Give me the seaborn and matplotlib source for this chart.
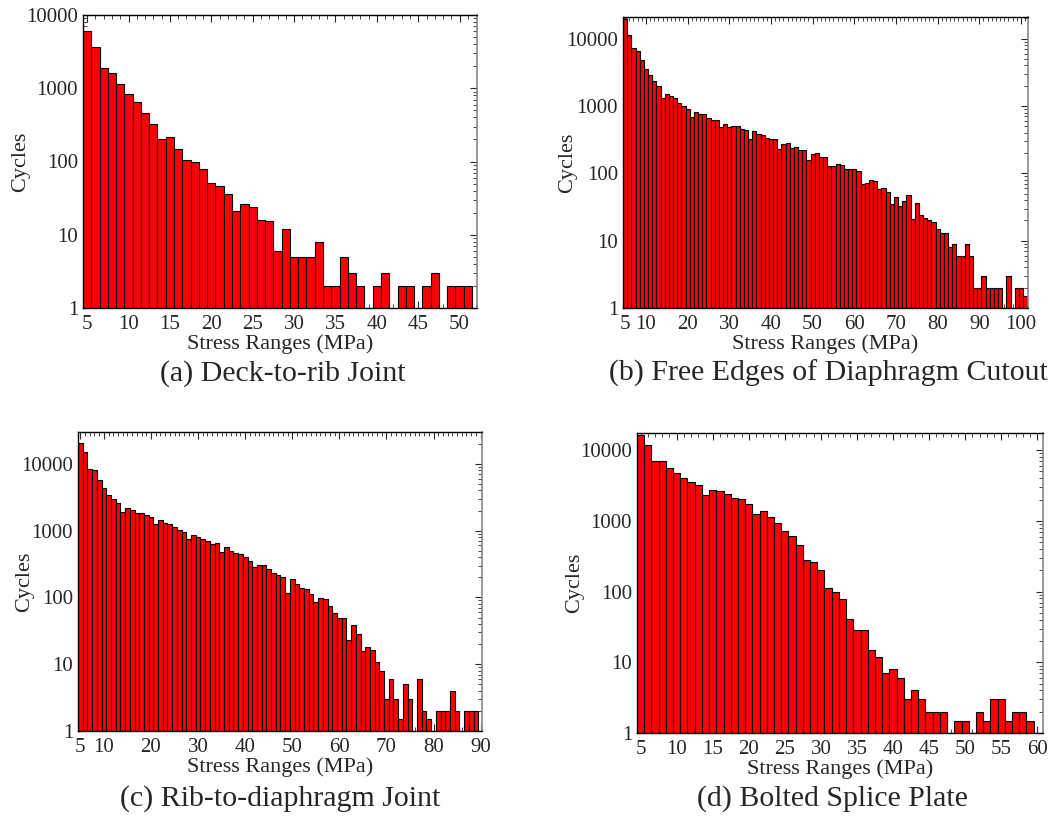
"""Stress range histograms for four orthotropic deck details."""

import matplotlib.pyplot as plt
import pandas as pd
import seaborn as sns
from matplotlib.ticker import LogLocator, MultipleLocator, NullFormatter

# (a) Deck-to-rib Joint, 5..51 MPa
A_STRESS = list(range(5, 52))
A_CYCLES = [
    6000, 3650, 1870, 1640, 1130, 830, 645, 455, 330, 203,
    215, 148, 104, 97, 78, 51, 46, 36, 21, 26,
    24, 15.7, 15.2, 6, 12, 5, 5, 5, 8, 2,
    2, 5, 3, 2, 0, 2, 3, 0, 2, 2,
    0, 2, 3, 0, 2, 2, 2,
]

# (b) Free Edges of Diaphragm Cutout, 5..101 MPa
B_STRESS = list(range(5, 102))
B_CYCLES = [
    19500, 11200, 7350, 6560, 4770, 3580, 2850, 2320, 1960, 1330,
    1490, 1420, 1300, 1120, 1010, 900, 695, 815, 770, 770,
    663, 627, 627, 493, 540, 493, 510, 505, 455, 445,
    327, 420, 388, 367, 339, 327, 327, 227, 273, 282,
    235, 249, 224, 224, 160, 196, 203, 177, 177, 130,
    130, 136, 135, 116, 116, 117, 108, 70, 73, 80,
    77, 58, 61, 53, 35, 45, 33, 39, 48, 21,
    36, 24, 22, 20, 19, 15, 13, 13, 8, 9,
    6, 6, 9, 6, 2, 2, 3, 2, 2, 2,
    2, 0, 3, 0, 2, 2, 1.5,
]

# (c) Rib-to-diaphragm Joint, 5..89 MPa
C_STRESS = list(range(5, 90))
C_CYCLES = [
    20400, 14800, 8500, 8100, 5750, 4370, 3430, 2990, 2600, 1900,
    2160, 2040, 1860, 1820, 1720, 1585, 1245, 1460, 1320, 1260,
    1150, 1020, 955, 740, 850, 810, 750, 700, 630, 650,
    485, 560, 500, 460, 447, 407, 350, 285, 310, 310,
    265, 234, 219, 204, 117, 188, 160, 138, 133, 112,
    85, 97, 94, 74, 57.5, 49, 49, 23, 38.5, 28,
    16, 18.4, 16.6, 10.8, 7.9, 3, 6, 3, 1.5, 5,
    3, 0, 6, 2, 1.5, 0, 2, 2, 2, 4,
    2, 0, 2, 2, 2,
]

# (d) Bolted Splice Plate, 5..59 MPa
D_STRESS = list(range(5, 60))
D_CYCLES = [
    16300, 12000, 7000, 7000, 5640, 4730, 3980, 3530, 3170, 2340,
    2700, 2640, 2430, 2140, 2050, 1730, 1240, 1365, 1120, 945,
    717, 617, 462, 283, 266, 204, 112, 99, 77.6, 41.6,
    28.8, 28.8, 15, 12, 7, 8, 6, 3, 4, 3,
    2, 2, 2, 0, 1.5, 1.5, 0, 2, 1.5, 3,
    3, 1.5, 2, 2, 1.5,
]

A_XTICKS = [5, 10, 15, 20, 25, 30, 35, 40, 45, 50]
B_XTICKS = [5, 10, 20, 30, 40, 50, 60, 70, 80, 90, 100]
C_XTICKS = [5, 10, 20, 30, 40, 50, 60, 70, 80, 90]
D_XTICKS = [5, 10, 15, 20, 25, 30, 35, 40, 45, 50, 55, 60]

Y_TICKS = [1, 10, 100, 1000, 10000]
Y_TICK_LABELS = ["1", "10", "100", "1000", "10000"]

CAPTIONS = [
    "(a) Deck-to-rib Joint",
    "(b) Free Edges of Diaphragm Cutout",
    "(c) Rib-to-diaphragm Joint",
    "(d) Bolted Splice Plate",
]

FIG_W, FIG_H = 1052, 818


def px_rect(left: float, top: float, right: float, bottom: float) -> list[float]:
    return [left / FIG_W, 1 - bottom / FIG_H, (right - left) / FIG_W, (bottom - top) / FIG_H]


def build_frame(stress: list[int], cycles: list[float]) -> pd.DataFrame:
    frame = pd.DataFrame({"Stress": stress, "Cycles": cycles})
    return frame[frame["Cycles"] > 0]


def draw_panel(ax, frame: pd.DataFrame, xticks: list[int], xlim: tuple, ytop: float, ylabel_x: float) -> None:
    sns.barplot(
        data=frame,
        x="Stress",
        y="Cycles",
        native_scale=True,
        width=1.0,
        color="#ff0000",
        saturation=1,
        edgecolor="black",
        linewidth=0.8,
        errorbar=None,
        ax=ax,
    )
    ax.set_yscale("log")
    ax.set_ylim(1, ytop)
    ax.set_xlim(*xlim)
    ax.set_yticks(Y_TICKS)
    ax.set_yticklabels(Y_TICK_LABELS)
    ax.yaxis.set_minor_locator(LogLocator(base=10, subs=range(2, 10)))
    ax.yaxis.set_minor_formatter(NullFormatter())
    ax.set_xticks(xticks)
    ax.set_xticklabels([str(t) for t in xticks])
    ax.xaxis.set_minor_locator(MultipleLocator(1))

    ax.tick_params(axis="both", which="both", direction="in", top=True, right=True, labelsize=15)
    ax.tick_params(axis="x", which="major", pad=5)
    ax.tick_params(axis="y", which="major", pad=3.5)
    ax.tick_params(axis="both", which="major", length=5, width=0.8)
    ax.tick_params(axis="both", which="minor", length=3, width=0.6)

    for side in ["left", "bottom", "top"]:
        ax.spines[side].set_color("black")
        ax.spines[side].set_linewidth(1.0)
    ax.spines["right"].set_color("#888888")
    ax.spines["right"].set_linewidth(1.2)

    ax.set_xlabel("Stress Ranges (MPa)", fontsize=16, labelpad=0)
    ax.set_ylabel("Cycles", fontsize=16)
    ax.yaxis.set_label_coords(ylabel_x, 0.5)


def main() -> None:
    sns.set_style("ticks")
    plt.rcParams["font.family"] = ["Liberation Serif", "DejaVu Serif"]

    fig = plt.figure(figsize=(FIG_W / 100, FIG_H / 100), dpi=100)

    ax_a = fig.add_axes(px_rect(83, 15, 477, 308))
    ax_b = fig.add_axes(px_rect(623, 17, 1028, 308))
    ax_c = fig.add_axes(px_rect(78, 432, 482, 731))
    ax_d = fig.add_axes(px_rect(637, 433, 1043, 733))

    draw_panel(ax_a, build_frame(A_STRESS, A_CYCLES), A_XTICKS, (4.5, 52.1), 10000, -0.135)
    draw_panel(ax_b, build_frame(B_STRESS, B_CYCLES), B_XTICKS, (4.5, 101.7), 21000, -0.114)
    draw_panel(ax_c, build_frame(C_STRESS, C_CYCLES), C_XTICKS, (4.5, 90.3), 30000, -0.109)
    draw_panel(ax_d, build_frame(D_STRESS, D_CYCLES), D_XTICKS, (4.5, 60.8), 17500, -0.13)

    caption_positions = [(283, 381), (828, 381), (280, 806), (832, 806)]
    for caption, (cx, cy) in zip(CAPTIONS, caption_positions):
        fig.text(cx / FIG_W, 1 - cy / FIG_H, caption, fontsize=21.5, ha="center", va="baseline")

    fig.savefig("out.png", dpi=100)


if __name__ == "__main__":
    main()
